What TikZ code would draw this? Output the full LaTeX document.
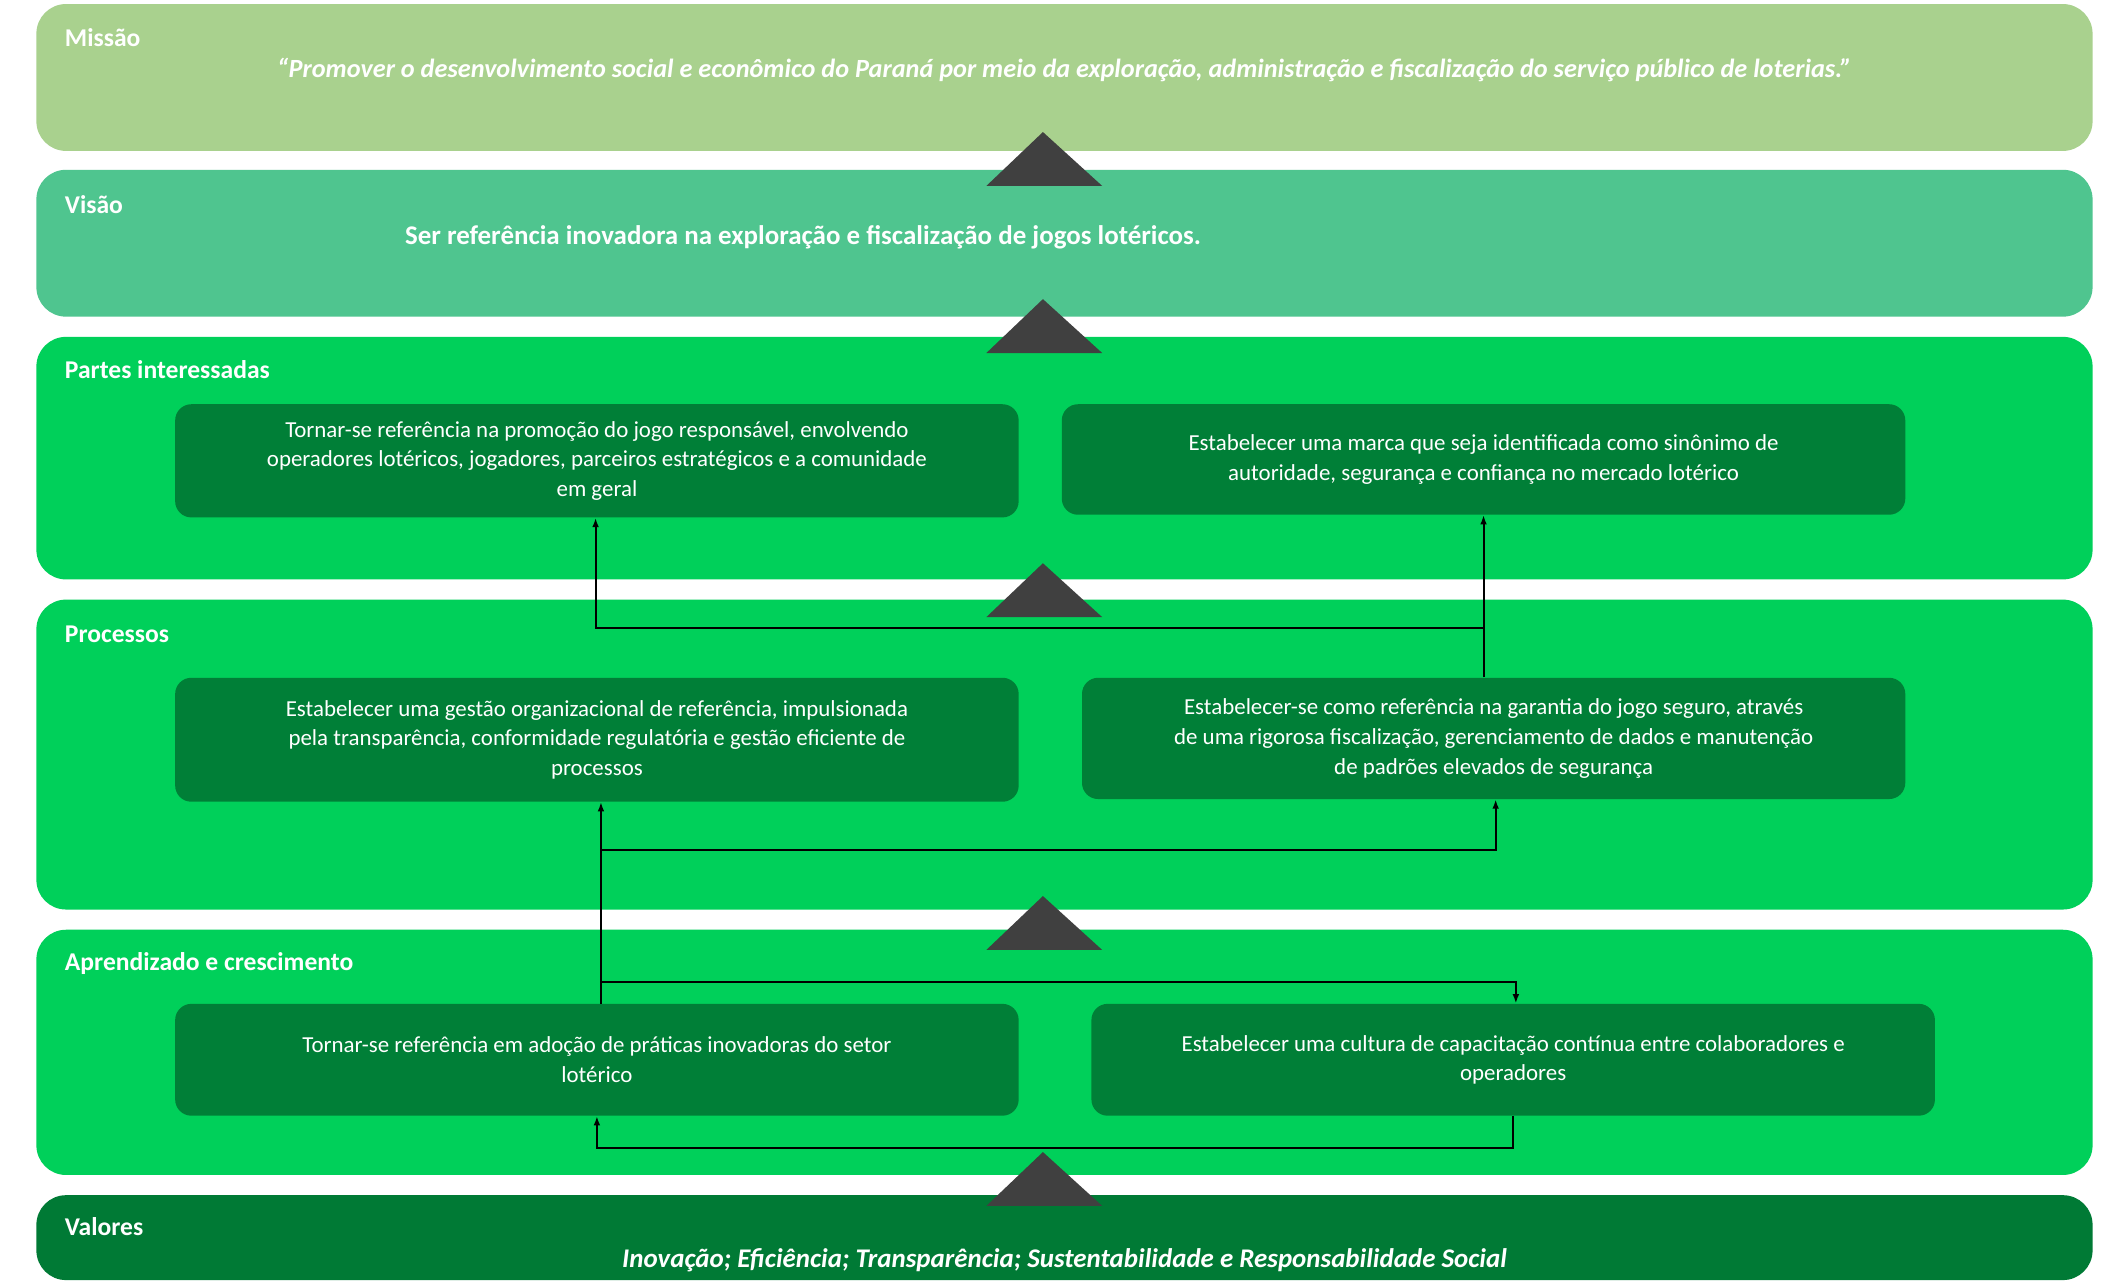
\documentclass[tikz,border=0pt]{standalone}
\usepackage{fontspec}
\setmainfont{Carlito}
\usetikzlibrary{arrows.meta}
\definecolor{cmis}{HTML}{A9D18E}
\definecolor{cvis}{HTML}{4FC58F}
\definecolor{cband}{HTML}{00D05A}
\definecolor{cbox}{HTML}{007F37}
\definecolor{cval}{HTML}{007A35}
\definecolor{ctri}{HTML}{404040}
\tikzset{
  band/.style={rounded corners=22pt},
  ttl/.style={anchor=west,text=white,font=\fontsize{19}{22}\selectfont\bfseries,inner sep=0},
  obj/.style={fill=cbox,rounded corners=12pt,text=white,align=center,font=\fontsize{17}{22}\selectfont,inner sep=0},
  tri/.style={fill=ctri},
  conn/.style={line width=1.5pt,draw=black},
  arr/.style={conn,-{Latex[length=7pt,width=5pt]}}
}
\begin{document}
\begin{tikzpicture}[x=1pt,y=-1pt]
\useasboundingbox[fill=white] (0,0) rectangle (1560,950);
% bands
\fill[cmis,band] (27,3) rectangle (1553,112);
\fill[cvis,band] (27,126) rectangle (1553,235);
\fill[cband,band] (27,250) rectangle (1553,430);
\fill[cband,band] (27,445) rectangle (1553,675);
\fill[cband,band] (27,690) rectangle (1553,872);
\fill[cval,band] (27,887) rectangle (1553,950);
% titles
\node[ttl] (tmis) at (48,28) {Missão};
\node[ttl] (tvis) at (48,152) {Visão};
\node[ttl] (tpar) at (48,274) {Partes interessadas};
\node[ttl] (tpro) at (48,471) {Processos};
\node[ttl] (tapr) at (48,715) {Aprendizado e crescimento};
\node[ttl] (tval) at (48,910) {Valores};
\node[text=white,font=\fontsize{19.5}{22}\selectfont\bfseries\itshape,inner sep=0] (mis) at (790,52) {“Promover o desenvolvimento social e econômico do Paraná por meio da exploração, administração e fiscalização do serviço público de loterias.”};
\node[text=white,font=\fontsize{20}{22}\selectfont\bfseries,inner sep=0] (vis) at (596,176) {Ser referência inovadora na exploração e fiscalização de jogos lotéricos.};
\node[text=white,font=\fontsize{20}{22}\selectfont\bfseries\itshape,inner sep=0] (val) at (790,935) {Inovação; Eficiência; Transparência; Sustentabilidade e Responsabilidade Social};
% objective boxes
\node[obj,minimum width=626pt,minimum height=84pt] (b1) at (443,342) {Tornar-se referência na promoção do jogo responsável, envolvendo\\operadores lotéricos, jogadores, parceiros estratégicos e a comunidade\\em geral};
\node[obj,minimum width=626pt,minimum height=82pt] (b2) at (1101,341) {Estabelecer uma marca que seja identificada como sinônimo de\\autoridade, segurança e confiança no mercado lotérico};
\node[obj,minimum width=626pt,minimum height=92pt] (b3) at (443,549) {Estabelecer uma gestão organizacional de referência, impulsionada\\pela transparência, conformidade regulatória e gestão eficiente de\\processos};
\node[obj,minimum width=611pt,minimum height=90pt] (b4) at (1108.5,548) {Estabelecer-se como referência na garantia do jogo seguro, através\\de uma rigorosa fiscalização, gerenciamento de dados e manutenção\\de padrões elevados de segurança};
\node[obj,minimum width=626pt,minimum height=83pt] (b5) at (443,786.5) {Tornar-se referência em adoção de práticas inovadoras do setor\\lotérico};
\node[obj,minimum width=626pt,minimum height=83pt] (b6) at (1123,786.5) {Estabelecer uma cultura de capacitação contínua entre colaboradores e\\operadores};
% triangles
\foreach \t in {98,222,418,665,855}{
  \fill[tri] (774,\t) -- (818,\t+40) -- (732,\t+40) -- cycle;
}
% connectors
\coordinate (j1) at (1101,466);
\coordinate (j1l) at (442,466);
\draw[arr] (b4.north -| j1) -- (b2.south -| j1);
\draw[arr] (j1) -- (j1l) -- (b1.south -| j1l);
\coordinate (j2) at (446,631);
\coordinate (j2r) at (1110,631);
\draw[arr] (b5.north -| j2) -- (b3.south -| j2);
\draw[arr] (j2) -- (j2r) -- (b4.south -| j2r);
\coordinate (j3) at (446,729);
\coordinate (j3r) at (1125,729);
\draw[arr] (j3) -- (j3r) -- (b6.north -| j3r);
\coordinate (j4r) at (1123,852);
\coordinate (j4l) at (443,852);
\draw[arr] (b6.south -| j4r) -- (j4r) -- (j4l) -- (b5.south -| j4l);
\end{tikzpicture}
\end{document}
